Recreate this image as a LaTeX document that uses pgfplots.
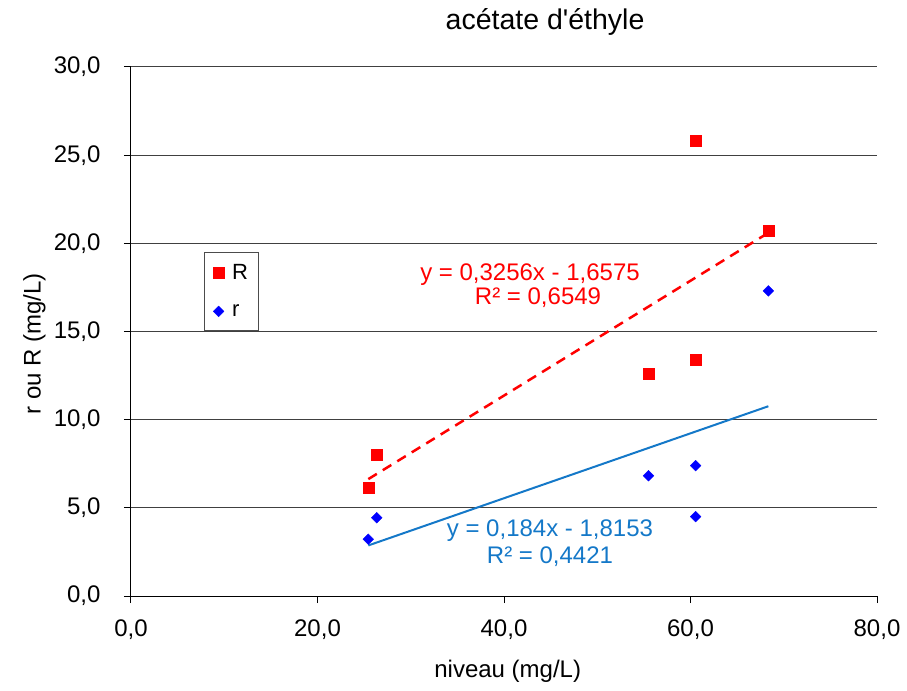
\documentclass[border=0pt]{standalone}
\usepackage{fontspec}
\setmainfont{Liberation Sans}
\usepackage{pgfplots}
\pgfplotsset{compat=1.18}
\definecolor{trendblue}{RGB}{20,120,200}
\definecolor{ptred}{RGB}{255,0,0}
\definecolor{ptblue}{RGB}{0,0,255}
\begin{document}
\begin{tikzpicture}[x=1bp,y=1bp]
\path[use as bounding box] (-131bp,-95bp) rectangle (776bp,596bp);
\begin{axis}[
  at={(0,0)}, anchor=south west,
  scale only axis, width=746bp, height=529bp,
  xmin=0, xmax=80, ymin=0, ymax=30,
  xtick={0,20,40,60,80}, ytick={0,5,10,15,20,25,30},
  axis x line*=bottom, axis y line*=left,
  axis line style={black, line width=1bp, -},
  tick align=outside, major tick length=7bp,
  tick style={black, line width=1bp},
  ymajorgrids, grid style={black!75, line width=1bp},
  /pgf/number format/.cd, fixed, fixed zerofill, precision=1, use comma, assume math mode=true,
  /pgfplots/.cd,
  ticklabel style={font=\fontsize{24bp}{28bp}\selectfont},
  xticklabel style={anchor=base, yshift=-33bp},
  yticklabel style={anchor=east, xshift=-20bp},
  clip=false,
  legend style={at={(rel axis cs:0.098,0.650)}, anchor=north west, draw=black!70, line width=1bp,
    outer sep=0pt, font=\fontsize{22bp}{26bp}\selectfont, inner xsep=9bp, inner ysep=10bp, row sep=20bp,
    /tikz/every odd column/.append style={column sep=6bp}},
  legend cell align=left,
]
\addplot[only marks, mark=square*, mark size=5.5bp, mark options={draw=ptred, fill=ptred, line width=0.3bp}]
  coordinates {(25.45,6.14) (26.35,8.04) (55.5,12.59) (60.55,13.39) (60.55,25.81) (68.35,20.70)};
\addlegendentry{R}
\addplot[only marks, mark=square*, mark size=3.8bp, mark options={rotate=45, draw=ptblue, fill=ptblue, line width=0.3bp}]
  coordinates {(25.45,3.22) (26.35,4.44) (55.5,6.82) (60.55,7.39) (60.55,4.50) (68.35,17.30)};
\addlegendentry{r}
\addplot[ptred, line width=2.5bp, dash pattern=on 10bp off 7bp, forget plot]
  coordinates {(25.45,6.629) (68.35,20.597)};
\addplot[trendblue, line width=2bp, forget plot]
  coordinates {(25.45,2.867) (68.35,10.761)};
\node[anchor=base, text=ptred, font=\fontsize{24bp}{28bp}\selectfont] at (axis cs:42.79,17.92) {y = 0,3256x - 1,6575};
\node[anchor=base, text=ptred, font=\fontsize{24bp}{28bp}\selectfont] at (axis cs:43.65,16.51) {R² = 0,6549};
\node[anchor=base, text=trendblue, font=\fontsize{24bp}{28bp}\selectfont] at (axis cs:44.93,3.37) {y = 0,184x - 1,8153};
\node[anchor=base, text=trendblue, font=\fontsize{24bp}{28bp}\selectfont] at (axis cs:44.93,1.82) {R² = 0,4421};
\node[anchor=base, font=\fontsize{28.5bp}{32bp}\selectfont] at (axis cs:44.4,32.1) {acétate d\textquotesingle éthyle};
\node[anchor=base, font=\fontsize{24bp}{28bp}\selectfont] at (axis cs:40.4,-4.65) {niveau (mg/L)};
\node[rotate=90, font=\fontsize{24bp}{28bp}\selectfont] at (axis cs:-10.35,14.3) {r ou R (mg/L)};
\end{axis}
\end{tikzpicture}
\end{document}
